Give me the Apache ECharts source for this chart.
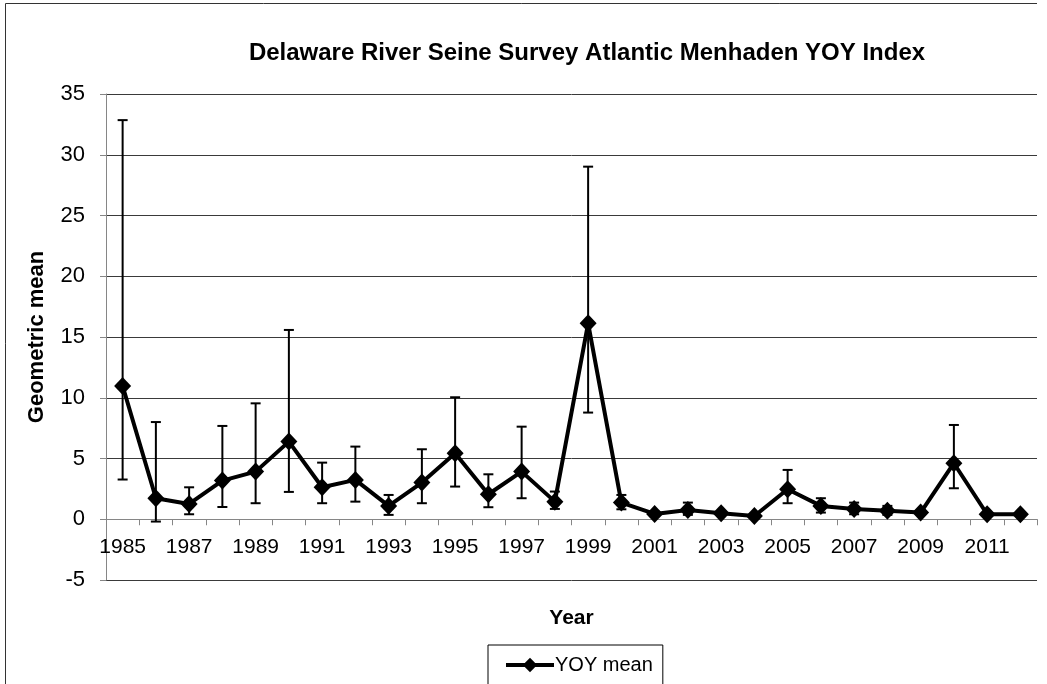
<!DOCTYPE html>
<html>
<head>
<meta charset="utf-8">
<title>Delaware River Seine Survey Atlantic Menhaden YOY Index</title>
<script src="https://cdn.jsdelivr.net/npm/echarts@6/dist/echarts.min.js"></script>
<style>
  html, body { margin: 0; padding: 0; background: #fff; }
  #chart { width: 1047px; height: 684px; }
</style>
</head>
<body>
<div id="chart"></div>
<script>
// Survey years (category axis)
const years = ['1985','1986','1987','1988','1989','1990','1991','1992','1993','1994',
  '1995','1996','1997','1998','1999','2000','2001','2002','2003','2004',
  '2005','2006','2007','2008','2009','2010','2011','2012'];

// Geometric mean catch per haul (YOY)
const yoyMean = [10.97, 1.73, 1.26, 3.18, 3.92, 6.39, 2.63, 3.24, 1.10, 3.02,
  5.43, 2.06, 3.92, 1.45, 16.13, 1.37, 0.44, 0.77, 0.49, 0.27,
  2.47, 1.10, 0.85, 0.69, 0.55, 4.61, 0.41, 0.41];

// Confidence limits drawn as error bars
const ciUpper = [32.85, 8.00, 2.63, 7.68, 9.54, 15.58, 4.66, 5.98, 2.00, 5.76,
  10.04, 3.70, 7.62, 2.28, 29.02, 2.00, 0.62, 1.37, 0.66, 0.42,
  4.06, 1.73, 1.37, 1.10, 0.72, 7.76, 0.56, 0.56];
const ciLower = [3.27, -0.19, 0.41, 1.01, 1.32, 2.25, 1.32, 1.45, 0.36, 1.32,
  2.69, 0.99, 1.73, 0.85, 8.78, 0.82, 0.30, 0.36, 0.34, 0.14,
  1.32, 0.55, 0.41, 0.36, 0.40, 2.55, 0.28, 0.28];

// Value axis range
const yMin = -5;
const yMax = 35;
const yStep = 5;

const FONT = '"Liberation Sans", Arial, sans-serif';

// Plot rectangle
const GRID = { left: 106, right: 10, top: 94, bottom: 104 };
const CHART_H = 684;
const plotH = CHART_H - GRID.top - GRID.bottom;
// The category axis crosses the value axis at zero
const zeroLift = plotH * (0 - yMin) / (yMax - yMin);

const chart = echarts.init(document.getElementById('chart'), null, { renderer: 'canvas' });

function renderErrorBar(params, api) {
  const idx = api.value(0);
  const lo = api.coord([idx, api.value(1)]);
  const hi = api.coord([idx, api.value(2)]);
  const cap = 5;
  const style = { stroke: '#000', lineWidth: 2 };
  return {
    type: 'group',
    children: [
      { type: 'line', shape: { x1: hi[0], y1: hi[1], x2: lo[0], y2: lo[1] }, style },
      { type: 'line', shape: { x1: hi[0] - cap, y1: hi[1], x2: hi[0] + cap, y2: hi[1] }, style },
      { type: 'line', shape: { x1: lo[0] - cap, y1: lo[1], x2: lo[0] + cap, y2: lo[1] }, style }
    ]
  };
}

chart.setOption({
  animation: false,
  backgroundColor: '#fff',
  textStyle: { fontFamily: FONT, color: '#000' },
  title: {
    text: 'Delaware River Seine Survey Atlantic Menhaden YOY Index',
    left: 582,
    textAlign: 'center',
    top: 36,
    textStyle: { fontFamily: FONT, fontSize: 24, fontWeight: 'bold', color: '#000' }
  },
  grid: {
    left: GRID.left, right: GRID.right, top: GRID.top, bottom: GRID.bottom,
    containLabel: false,
    outerBoundsMode: 'none'
  },
  legend: {
    data: ['YOY mean'],
    left: 488,
    top: 645,
    orient: 'horizontal',
    itemWidth: 48,
    itemHeight: 18,
    itemGap: 4,
    padding: [10, 10, 14, 16],
    borderColor: '#000',
    borderWidth: 1,
    lineStyle: { color: '#000', width: 4 },
    itemStyle: { color: '#000' },
    textStyle: { fontFamily: FONT, fontSize: 20, color: '#000', padding: [0, 0, 0, -4] }
  },
  xAxis: {
    type: 'category',
    data: years,
    boundaryGap: true,
    offset: -zeroLift,
    name: 'Year',
    nameLocation: 'middle',
    nameGap: 88,
    nameTextStyle: { fontFamily: FONT, fontSize: 21, fontWeight: 'bold', color: '#000' },
    axisLine: { onZero: false, lineStyle: { color: '#868686', width: 1 } },
    axisTick: { show: true, alignWithLabel: false, interval: 0, length: 6, lineStyle: { color: '#868686' } },
    axisLabel: { interval: 1, margin: 17, fontFamily: FONT, fontSize: 21, color: '#000' },
    splitLine: { show: false }
  },
  yAxis: {
    type: 'value',
    min: yMin,
    max: yMax,
    interval: yStep,
    name: 'Geometric mean',
    nameLocation: 'middle',
    nameGap: 58,
    nameRotate: 90,
    nameTextStyle: { fontFamily: FONT, fontSize: 22, fontWeight: 'bold', color: '#000' },
    axisLine: { show: true, lineStyle: { color: '#868686', width: 1 } },
    axisTick: { show: true, length: 6, lineStyle: { color: '#868686' } },
    axisLabel: { margin: 21, fontFamily: FONT, fontSize: 22, color: '#000' },
    splitLine: { show: true, lineStyle: { color: '#3a3a3a', width: 1 } }
  },
  series: [
    {
      name: 'CI',
      type: 'custom',
      renderItem: renderErrorBar,
      encode: { x: 0, y: [1, 2] },
      data: years.map((y, i) => [i, ciLower[i], ciUpper[i]]),
      z: 2,
      silent: true
    },
    {
      name: 'YOY mean',
      type: 'line',
      data: yoyMean,
      symbol: 'diamond',
      symbolSize: [17, 18],
      lineStyle: { color: '#000', width: 4 },
      itemStyle: { color: '#000' },
      z: 3
    }
  ],
  graphic: [
    { type: 'line', shape: { x1: 5.5, y1: 3.5, x2: 1037, y2: 3.5 }, style: { stroke: '#333', lineWidth: 1 } },
    { type: 'line', shape: { x1: 5.5, y1: 3.5, x2: 5.5, y2: 684 }, style: { stroke: '#333', lineWidth: 1 } }
  ]
});
</script>
</body>
</html>
